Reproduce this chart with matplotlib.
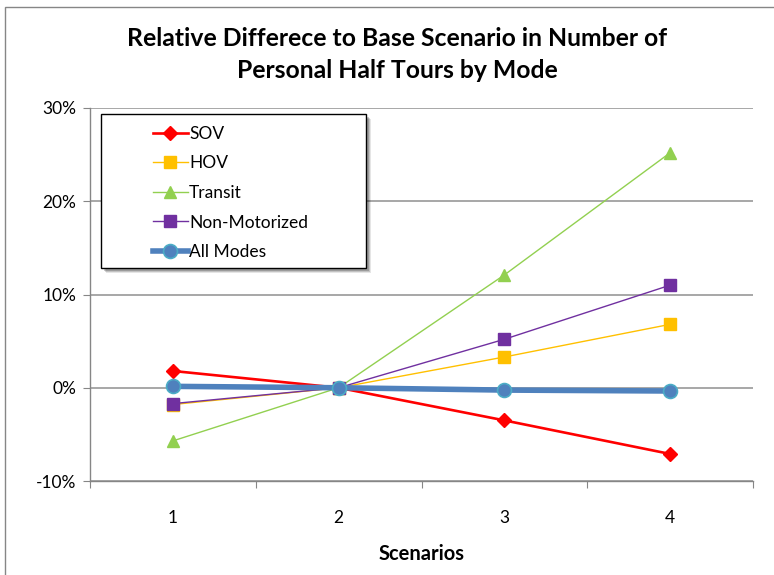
import matplotlib
matplotlib.use("Agg")
import matplotlib.pyplot as plt
from matplotlib.patches import Rectangle
from matplotlib.ticker import FuncFormatter, FixedLocator, NullFormatter

plt.rcParams['font.family'] = ['Lato', 'DejaVu Sans']

scenarios = [1, 2, 3, 4]
sov = [1.8, 0.0, -3.5, -7.1]
hov = [-1.8, 0.0, 3.3, 6.8]
transit = [-5.7, 0.0, 12.1, 25.2]
non_motorized = [-1.7, 0.0, 5.2, 11.0]
all_modes = [0.15, 0.0, -0.25, -0.35]

W, H = 774, 575
fig = plt.figure(figsize=(W / 100, H / 100), dpi=100)

# outer chart border
fig.patches.append(Rectangle((5 / W, -0.01), 1.2, (H - 7) / H + 0.01, transform=fig.transFigure,
                             fill=False, edgecolor='#868686', linewidth=1.0))

x0, x1 = 90, 753
ytop, ybot = 108, 481
ax = fig.add_axes([x0 / W, 1 - ybot / H, (x1 - x0) / W, (ybot - ytop) / H])

xpos = [0.5, 1.5, 2.5, 3.5]
series = [
    ("SOV", sov, dict(color='#FF0000', lw=1.9, marker='D', ms=7, mfc='#FF0000', mec='#FF0000')),
    ("HOV", hov, dict(color='#FFC000', lw=1.0, marker='s', ms=8, mfc='#FFC000', mec='#FFC000')),
    ("Transit", transit, dict(color='#92D050', lw=1.0, marker='^', ms=9, mfc='#92D050', mec='#92D050')),
    ("Non-Motorized", non_motorized, dict(color='#7030A0', lw=1.0, marker='s', ms=8, mfc='#7030A0', mec='#7030A0')),
    ("All Modes", all_modes, dict(color='#4F81BD', lw=4.0, marker='o', ms=10, mfc='#4F81BD', mec='#4BACC6', mew=1.2)),
]
handles = []
for i, (name, vals, st) in enumerate(series):
    ln, = ax.plot(xpos, vals, zorder=3 + i, label=name, **st)
    handles.append(ln)

ax.set_xlim(0, 4)
ax.set_ylim(-10, 30)
ax.yaxis.set_major_locator(FixedLocator([-10, 0, 10, 20, 30]))
ax.yaxis.set_major_formatter(FuncFormatter(lambda v, p: f"{int(v)}%"))
ax.grid(axis='y', color='#A0A0A0', linewidth=1.3)
ax.set_axisbelow(True)

# category ticks between groups, labels centred in groups
ax.xaxis.set_major_locator(FixedLocator([0, 1, 2, 3, 4]))
ax.xaxis.set_major_formatter(NullFormatter())
ax.xaxis.set_minor_locator(FixedLocator(xpos))
ax.xaxis.set_minor_formatter(FuncFormatter(lambda v, p: str(scenarios[int(v)])))
ax.tick_params(axis='x', which='minor', length=0, pad=21, labelsize=12.5)
ax.tick_params(axis='x', which='major', length=5, color='#868686', direction='out')
ax.tick_params(axis='y', length=5, color='#868686', direction='out', labelsize=12.5, pad=5)

for s in ['top', 'right']:
    ax.spines[s].set_visible(False)
for s in ['left', 'bottom']:
    ax.spines[s].set_color('#868686')
    ax.spines[s].set_linewidth(1.0)

ax.set_xlabel("Scenarios", fontsize=14.5, fontweight='bold', labelpad=13)

fig.text(397 / W, 1 - 38 / H, "Relative Differece to Base Scenario in Number of",
         ha='center', va='center', fontsize=17.8, fontweight='bold')
fig.text(397 / W, 1 - 70 / H, "Personal Half Tours by Mode",
         ha='center', va='center', fontsize=17.8, fontweight='bold')

# legend box with soft shadow
lx0, ly0, lx1, ly1 = 101, 114, 366, 268
for k, a in [(5, 0.10), (4, 0.15), (3, 0.2)]:
    fig.patches.append(Rectangle((lx0 / W + k / W, 1 - ly1 / H - k / H), (lx1 - lx0) / W, (ly1 - ly0) / H,
                                 transform=fig.transFigure, facecolor='#000000', alpha=a, edgecolor='none',
                                 zorder=9))
fig.patches.append(Rectangle((lx0 / W, 1 - ly1 / H), (lx1 - lx0) / W, (ly1 - ly0) / H,
                             transform=fig.transFigure, facecolor='white', edgecolor='black',
                             linewidth=1.0, zorder=10))
leg = fig.legend(handles=handles, loc='upper left', bbox_to_anchor=(139 / W, 1 - 112 / H),
                 frameon=False, fontsize=12.5, handlelength=2.0, handletextpad=0.08,
                 labelspacing=0.78, borderpad=0.3)
leg.set_zorder(11)

fig.savefig("out.png", dpi=100)
